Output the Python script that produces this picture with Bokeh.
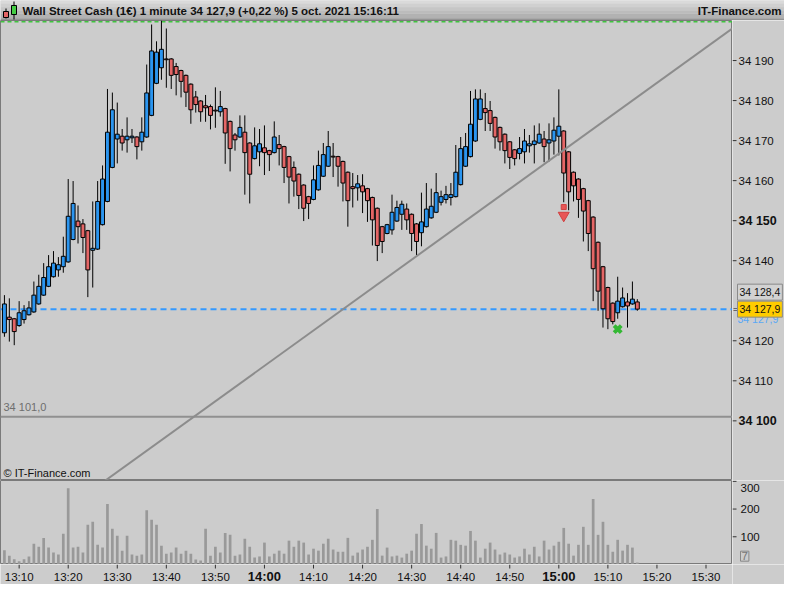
from bokeh.plotting import figure
from bokeh.layouts import column, row
from bokeh.models import Range1d, Span, Label, ColumnDataSource
from bokeh.embed import file_html
from bokeh.resources import INLINE
from bokeh.core.properties import value

FONT = "Liberation Sans"

# ---------------- data ----------------
first_bar_time = "13:07"
opens = [34122.0, 34125.9, 34125.5, 34123.8, 34125.3, 34126.5, 34127.2, 34129.2, 34131.4, 34133.6,
         34136.0, 34137.7, 34138.5, 34139.7, 34145.3, 34149.9, 34149.2, 34147.5, 34142.6, 34142.9,
         34149.0, 34154.8, 34163.3, 34170.4, 34171.1, 34170.2, 34170.7, 34170.9, 34169.7, 34170.9,
         34176.3, 34184.3, 34188.2, 34190.4, 34190.4, 34188.5, 34187.5, 34186.3, 34184.1, 34180.9,
         34179.9, 34178.7, 34178.5, 34177.6, 34177.2, 34178.0, 34174.8, 34171.4, 34170.9, 34172.1,
         34169.4, 34165.5, 34167.2, 34168.2, 34167.5, 34167.0, 34169.0, 34168.5, 34166.0, 34163.3,
         34161.6, 34158.9, 34156.0, 34155.3, 34157.7, 34161.1, 34163.6, 34166.1, 34166.0, 34164.8,
         34162.1, 34158.5, 34158.2, 34158.7, 34158.0, 34155.8, 34153.1, 34148.5, 34146.8, 34147.7,
         34149.9, 34151.6, 34152.9, 34151.6, 34149.2, 34147.0, 34148.5, 34150.7, 34152.1, 34154.6,
         34155.3, 34155.8, 34156.0, 34159.0, 34163.6, 34166.0, 34169.9, 34175.3, 34178.0, 34177.5,
         34175.8, 34173.3, 34171.6, 34169.7, 34167.7, 34166.8, 34167.2, 34168.7, 34169.0, 34169.4,
         34170.4, 34169.4, 34169.9, 34171.1, 34172.4, 34167.2, 34162.1, 34160.4, 34158.0, 34155.0,
         34150.9, 34144.6, 34138.5, 34133.3, 34129.4, 34127.0, 34128.5, 34129.7, 34129.2, 34129.7]
highs = [34131.4, 34130.6, 34125.7, 34129.9, 34128.9, 34129.9, 34134.8, 34136.5, 34139.4, 34141.4,
         34142.4, 34140.9, 34146.0, 34160.4, 34159.9, 34153.8, 34150.4, 34147.7, 34154.8, 34159.9,
         34163.8, 34182.9, 34182.0, 34179.5, 34172.9, 34175.8, 34172.9, 34171.1, 34175.8, 34189.0,
         34199.0, 34194.8, 34200.0, 34198.0, 34190.6, 34189.4, 34187.7, 34186.5, 34184.3, 34182.4,
         34180.1, 34181.4, 34179.0, 34183.3, 34182.4, 34178.2, 34175.0, 34171.9, 34176.3, 34176.3,
         34169.6, 34173.3, 34172.9, 34173.8, 34167.7, 34174.8, 34171.4, 34168.7, 34166.2, 34164.8,
         34161.8, 34159.1, 34156.2, 34163.8, 34167.5, 34169.4, 34172.4, 34169.4, 34166.2, 34165.0,
         34162.3, 34161.9, 34161.4, 34161.6, 34158.2, 34156.0, 34153.3, 34148.7, 34149.2, 34156.5,
         34155.0, 34155.0, 34154.3, 34151.8, 34149.4, 34157.0, 34159.4, 34158.0, 34161.9, 34157.5,
         34158.7, 34159.4, 34168.9, 34170.9, 34171.9, 34182.4, 34182.8, 34182.8, 34181.9, 34179.9,
         34176.0, 34173.5, 34171.8, 34169.9, 34167.9, 34170.9, 34172.9, 34171.4, 34173.8, 34174.3,
         34172.4, 34174.3, 34175.8, 34182.8, 34172.6, 34167.4, 34162.3, 34160.6, 34158.2, 34155.2,
         34151.1, 34144.8, 34138.7, 34133.5, 34129.6, 34136.0, 34133.3, 34131.9, 34134.8, 34130.4]
lows = [34121.0, 34119.8, 34118.9, 34123.5, 34124.3, 34126.3, 34127.0, 34129.0, 34131.2, 34133.4,
        34135.8, 34136.0, 34137.0, 34139.5, 34145.1, 34144.3, 34141.9, 34130.9, 34133.3, 34142.7,
        34148.8, 34154.6, 34163.1, 34164.3, 34167.5, 34167.0, 34169.4, 34165.3, 34167.5, 34170.7,
        34176.1, 34184.1, 34185.2, 34183.2, 34182.9, 34181.3, 34180.8, 34178.4, 34174.2, 34177.0,
        34174.7, 34174.7, 34172.8, 34173.2, 34176.0, 34164.2, 34162.3, 34167.5, 34170.7, 34156.5,
        34154.3, 34165.3, 34163.6, 34161.4, 34162.4, 34166.8, 34163.8, 34159.4, 34154.3, 34156.0,
        34152.9, 34149.9, 34150.4, 34155.1, 34157.5, 34160.9, 34163.4, 34160.9, 34158.5, 34154.8,
        34148.5, 34153.3, 34155.0, 34151.9, 34149.7, 34143.8, 34139.9, 34141.9, 34146.6, 34146.5,
        34149.7, 34147.7, 34147.7, 34142.4, 34141.4, 34143.6, 34148.3, 34150.5, 34151.9, 34153.8,
        34154.3, 34153.8, 34155.8, 34158.8, 34163.4, 34165.8, 34169.7, 34175.1, 34172.4, 34172.4,
        34168.0, 34167.5, 34164.3, 34162.9, 34163.8, 34165.3, 34164.3, 34167.0, 34164.3, 34169.2,
        34164.6, 34164.8, 34166.5, 34166.3, 34154.6, 34152.6, 34154.8, 34150.7, 34144.8, 34142.4,
        34129.9, 34127.5, 34123.3, 34122.9, 34124.1, 34125.5, 34128.3, 34123.3, 34129.0, 34127.5]
closes = [34129.2, 34125.3, 34122.3, 34127.0, 34127.5, 34128.2, 34131.4, 34133.6, 34135.8, 34138.5,
          34139.4, 34139.0, 34141.1, 34151.1, 34154.3, 34148.5, 34145.8, 34137.7, 34143.1, 34154.8,
          34160.4, 34172.1, 34177.7, 34171.6, 34169.4, 34171.1, 34171.1, 34168.5, 34172.1, 34181.9,
          34192.4, 34192.1, 34192.8, 34190.2, 34186.3, 34186.5, 34184.8, 34182.1, 34177.7, 34179.0,
          34177.2, 34178.2, 34176.3, 34177.4, 34178.5, 34171.9, 34168.0, 34170.2, 34173.3, 34167.0,
          34161.6, 34168.7, 34169.2, 34167.0, 34166.5, 34170.9, 34168.0, 34163.3, 34160.9, 34159.9,
          34156.3, 34153.1, 34154.3, 34160.2, 34163.8, 34166.5, 34168.5, 34165.9, 34163.6, 34159.4,
          34155.0, 34158.0, 34159.2, 34157.2, 34155.0, 34150.2, 34143.8, 34144.8, 34149.0, 34152.1,
          34153.3, 34154.1, 34150.2, 34146.8, 34144.8, 34149.7, 34152.9, 34153.6, 34157.0, 34156.0,
          34156.5, 34156.5, 34162.1, 34168.0, 34168.5, 34174.1, 34180.4, 34180.4, 34177.0, 34174.3,
          34170.9, 34169.7, 34167.5, 34165.8, 34165.5, 34168.0, 34169.9, 34169.2, 34169.9, 34171.6,
          34168.5, 34170.2, 34172.6, 34173.6, 34161.9, 34157.2, 34158.7, 34155.3, 34152.4, 34146.8,
          34138.0, 34132.4, 34128.0, 34125.5, 34124.8, 34129.9, 34130.7, 34128.7, 34130.4, 34127.9]
volumes = [51, 32, 19, 12, 19, 29, 75, 64, 96, 61, 43, 36, 111, 275, 61, 64, 43, 143, 154, 71,
           61, 218, 129, 104, 50, 104, 36, 32, 36, 196, 161, 143, 68, 39, 43, 61, 39, 50, 39, 18,
           14, 129, 32, 64, 43, 114, 107, 32, 36, 93, 64, 25, 29, 79, 29, 39, 50, 39, 86, 64,
           86, 79, 36, 57, 50, 75, 93, 54, 46, 46, 96, 32, 43, 54, 64, 89, 200, 32, 61, 29,
           32, 25, 39, 50, 111, 146, 68, 57, 114, 25, 29, 89, 86, 71, 68, 121, 86, 25, 57, 79,
           54, 36, 43, 36, 25, 29, 57, 36, 64, 29, 86, 54, 68, 82, 132, 75, 32, 71, 136, 71,
           236, 107, 154, 71, 46, 89, 50, 71, 61, 7]

price_ticks = [34100, 34110, 34120, 34140, 34150, 34160, 34170, 34180, 34190]
bold_price_ticks = [34100, 34150]
time_tick_labels = ["13:10", "13:20", "13:30", "13:40", "13:50", "14:00", "14:10", "14:20",
                    "14:30", "14:40", "14:50", "15:00", "15:10", "15:20", "15:30"]
bold_time_tick_labels = ["14:00", "15:00"]
volume_ticks = [100, 200, 300]

title_text = "Wall Street Cash (1€) 1 minute 34 127,9 (+0,22 %) 5 oct. 2021 15:16:11"
brand_text = "IT-Finance.com"
last_price = 34127.9
ask_price = 34128.4
support_level = 34101.0
session_high = 34199.7
trend_times = ["13:20", "15:40"]
trend_values = [34078.4, 34202.1]
sell_signal_time, sell_signal_price = "15:01", 34152.2
buy_signal_time, buy_signal_price = "15:12", 34122.9
last_volume = 7

# ---------------- helpers ----------------
def to_min(s):
    h, m = s.split(":")
    return (int(h) - 13) * 60 + int(m)

def fmt_price(v):
    v = int(round(v))
    return f"{v // 1000} {v % 1000:03d}"

def fmt_price1(v):
    tenths = int(round(v * 10))
    return f"{fmt_price(tenths // 10)},{tenths % 10}"

UP = "#2b95ef"
DOWN = "#e46666"
BG = "#cccccc"
FRAME = "#7a7a7a"
W = 784
AXW = 52
FW = W - AXW


def panel(width, height, x_range, y_range, outline=None):
    f = figure(width=width, height=height, x_range=x_range, y_range=y_range,
               output_backend="svg", toolbar_location=None, min_border=0,
               x_axis_location=None, y_axis_location=None)
    f.grid.visible = False
    f.background_fill_color = BG
    f.border_fill_color = BG
    f.outline_line_color = outline
    return f


t0 = to_min(first_bar_time)
ts = [t0 + i for i in range(len(opens))]
src = ColumnDataSource(dict(
    t=ts, o=opens, h=highs, l=lows, c=closes, vol=volumes,
    top=[max(a, b) for a, b in zip(opens, closes)],
    bot=[min(a, b) for a, b in zip(opens, closes)],
    color=[UP if c >= o else DOWN for o, c in zip(opens, closes)],
))

x_range = Range1d(6.2, 155.4)
price_range = Range1d(34085.1, 34200.0)
vol_range = Range1d(0, 303)
axis_px = Range1d(0, AXW)

# ---------------- header ----------------
h = panel(W, 20, Range1d(0, W), Range1d(0, 20))
shades = ["#a8a8a8", "#b2b2b2", "#bcbcbc", "#c6c6c6", "#d0d0d0", "#dadada"]
h.quad(left=0, right=W, bottom=[i * 20 / 6 for i in range(6)], top=[(i + 1) * 20 / 6 for i in range(6)],
       fill_color=shades, line_color=None)
h.segment(x0=[0], y0=[0.5], x1=[W], y1=[0.5], line_color="#808080", line_width=1)
h.segment(x0=[5.5, 13.5], y0=[2, 1], x1=[5.5, 13.5], y1=[12, 19], line_color="black")
h.quad(left=[3, 11], right=[8, 16], bottom=[3, 6], top=[9, 15], fill_color=[DOWN, "#44cc44"],
       line_color="black")
h.text(x=[22], y=[10], text=[title_text], text_font=value(FONT), text_font_style="bold",
       text_font_size="11.5px", text_baseline="middle", text_color="#111111")
h.text(x=[W - 3], y=[10], text=[brand_text], text_font=value(FONT), text_font_style="bold",
       text_font_size="11.5px", text_baseline="middle", text_align="right", text_color="#111111")

# ---------------- price panel ----------------
p = panel(FW, 460, x_range, price_range, outline=FRAME)
p.add_layout(Span(location=session_high, dimension="width", line_color="#3fc43f",
                  line_dash="4 3", line_width=1.5, level="underlay"))
p.add_layout(Span(location=last_price, dimension="width", line_color="#3399ff",
                  line_dash="6 4", line_width=2, level="underlay"))
p.add_layout(Span(location=support_level, dimension="width", line_color="#909090",
                  line_width=2, level="underlay"))

p.segment(x0="t", y0="l", x1="t", y1="h", source=src, line_color="black", line_width=1)
p.vbar(x="t", width=0.8, top="top", bottom="bot", source=src, fill_color="color",
       line_color="black", line_width=1)

p.line(x=[to_min(s) for s in trend_times], y=trend_values, line_color="#8c8c8c", line_width=2)

p.scatter(x=[to_min(sell_signal_time)], y=[sell_signal_price + 1.2], marker="square", size=5,
          fill_color="#e85555", line_color="#d04040")
p.scatter(x=[to_min(sell_signal_time)], y=[sell_signal_price - 0.9], marker="inverted_triangle",
          size=11, fill_color="#e85555", line_color="#d04040")
p.scatter(x=[to_min(buy_signal_time)], y=[buy_signal_price], marker="x", size=10,
          line_color="#33b833", line_width=4)

p.add_layout(Label(x=3, x_units="screen", y=support_level, y_offset=4, text=fmt_price1(support_level),
                   text_font=FONT, text_font_size="11px", text_baseline="bottom", text_color="#6e6e6e"))
p.add_layout(Label(x=3, x_units="screen", y=2, y_units="screen", text="© " + brand_text,
                   text_font=FONT, text_font_size="11px", text_baseline="bottom", text_color="#111111"))

# price axis strip
pa = panel(AXW, 460, axis_px, price_range)
pa.segment(x0=0, x1=4, y0=price_ticks, y1=price_ticks, line_color="#333333", line_width=1)
normal_pt = [t for t in price_ticks if t not in bold_price_ticks]
pa.text(x=6, y=normal_pt, text=[fmt_price(t) for t in normal_pt], text_font=value(FONT),
        text_font_size="11.5px", text_baseline="middle", text_color="#111111")
pa.text(x=6, y=bold_price_ticks, text=[fmt_price(t) for t in bold_price_ticks], text_font=value(FONT),
        text_font_size="12.5px", text_font_style="bold", text_baseline="middle", text_color="#111111")
pa.add_layout(Label(x=5, y=last_price, y_offset=-10, text=fmt_price1(last_price),
                    text_font=FONT, text_font_size="10.5px", text_baseline="middle", text_color="#5aa8f5"))
pa.add_layout(Label(x=5, y=ask_price, y_offset=15, text=fmt_price1(ask_price),
                    text_font=FONT, text_font_size="10.5px", text_baseline="middle", text_color="#111111",
                    background_fill_color="#d2d2d2", border_line_color="#8a8a8a", padding=2))
pa.add_layout(Label(x=5, y=last_price, text=fmt_price1(last_price),
                    text_font=FONT, text_font_size="10.5px", text_baseline="middle", text_color="#111111",
                    background_fill_color="#ffcc00", border_line_color="#8a8a8a", padding=2))
pa.text(x=0.5, y=[last_price], text=["="], text_font=value(FONT), text_font_size="8px",
        text_baseline="middle", text_color="#111111")

# ---------------- volume panel ----------------
v = panel(FW, 84, x_range, vol_range, outline=FRAME)
v.vbar(x="t", width=0.55, top="vol", bottom=0, source=src, fill_color="#999999", line_color=None)

va = panel(AXW, 84, axis_px, vol_range)
va.segment(x0=0, x1=4, y0=volume_ticks, y1=volume_ticks, line_color="#333333", line_width=1)
va.text(x=8, y=volume_ticks[:-1], text=[str(t) for t in volume_ticks[:-1]], text_font=value(FONT),
        text_font_size="11.5px", text_baseline="middle", text_color="#111111")
va.add_layout(Label(x=8, y=volume_ticks[-1], y_offset=-7, text=str(volume_ticks[-1]), text_font=FONT,
                    text_font_size="11.5px", text_baseline="middle", text_color="#111111"))
va.add_layout(Label(x=8, y=30, text=str(last_volume), text_font=FONT, text_font_size="11.5px",
                    text_baseline="middle", text_color="#777777", border_line_color="#888888",
                    padding=1))

# ---------------- time axis strip ----------------
ta = panel(FW, 20, x_range, Range1d(0, 20))
tick_pos = [to_min(s) for s in time_tick_labels]
ta.segment(x0=tick_pos, x1=tick_pos, y0=20, y1=16, line_color="#333333", line_width=1)
normal_tl = [s for s in time_tick_labels if s not in bold_time_tick_labels]
ta.text(x=[to_min(s) for s in normal_tl], y=8, text=normal_tl, text_font=value(FONT),
        text_font_size="11.5px", text_align="center", text_baseline="middle", text_color="#111111")
ta.text(x=[to_min(s) for s in bold_time_tick_labels], y=8, text=bold_time_tick_labels,
        text_font=value(FONT), text_font_size="13px", text_font_style="bold", text_align="center",
        text_baseline="middle", text_color="#111111")
corner = panel(AXW, 20, axis_px, Range1d(0, 20))

layout = column(h, row(p, pa), row(v, va), row(ta, corner))
open("out.html", "w").write(file_html(layout, INLINE))
